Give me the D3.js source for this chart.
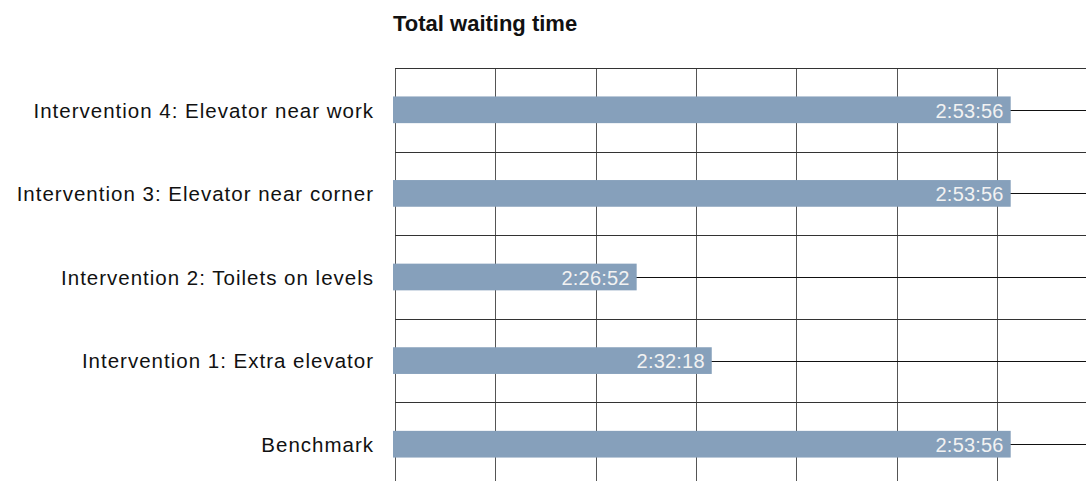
<!DOCTYPE html>
<html>
<head>
<meta charset="utf-8">
<script src="https://cdn.jsdelivr.net/npm/d3@7"></script>
<style>
  body { margin: 0; background: #fff; }
  svg { display: block; }
</style>
</head>
<body>
<div id="chart"></div>
<script>
// data, top row first
var categories = ["Intervention 4: Elevator near work", "Intervention 3: Elevator near corner",
  "Intervention 2: Toilets on levels", "Intervention 1: Extra elevator", "Benchmark"];
var waitLabels = ["2:53:56", "2:53:56", "2:26:52", "2:32:18", "2:53:56"];
var gridCols = [0, 1, 2, 3, 4, 5, 6];

function toSeconds(s) {
  var p = s.split(":").map(Number);
  return p[0] * 3600 + p[1] * 60 + p[2];
}
var waitSeconds = waitLabels.map(toSeconds);

var width = 1086, height = 481;

var svg = d3.select("#chart").append("svg")
  .attr("width", width)
  .attr("height", height);

// axis starts a bit above 2:09, not at zero
var x = d3.scaleLinear()
  .domain([7754, 10436])
  .range([393, 1010.7]);

var y = d3.scaleBand()
  .domain(categories)
  .range([68, 486]);

var grid = d3.scaleLinear()
  .domain([0, 6])
  .range([395, 997]);

var barH = 26.7;

// title
svg.append("text")
  .attr("x", 393)
  .attr("y", 31)
  .text("Total waiting time")
  .style("font-family", "Liberation Sans, Arial, sans-serif")
  .style("font-weight", "bold")
  .style("font-size", "22px")
  .attr("fill", "#111");

// grid
svg.append("g").attr("class", "vgrid")
  .selectAll("line")
  .data(gridCols)
  .join("line")
  .attr("x1", d => Math.round(grid(d)) + 0.5)
  .attr("x2", d => Math.round(grid(d)) + 0.5)
  .attr("y1", y.range()[0])
  .attr("y2", height)
  .attr("stroke", "#555")
  .attr("stroke-width", 1);

svg.append("g").attr("class", "hgrid")
  .selectAll("line")
  .data(categories)
  .join("line")
  .attr("x1", grid(0))
  .attr("x2", width)
  .attr("y1", d => Math.round(y(d)) + 0.5)
  .attr("y2", d => Math.round(y(d)) + 0.5)
  .attr("stroke", "#333");

// line through each row (shows past the bar end)
svg.append("g").attr("class", "rowline")
  .selectAll("line")
  .data(categories)
  .join("line")
  .attr("x1", grid(0))
  .attr("x2", width)
  .attr("y1", d => Math.round(y(d) + y.bandwidth() / 2) + 0.5)
  .attr("y2", d => Math.round(y(d) + y.bandwidth() / 2) + 0.5)
  .attr("stroke", "#111");

// bars
svg.append("g").attr("class", "bars")
  .selectAll("rect")
  .data(categories)
  .join("rect")
  .attr("x", x.range()[0])
  .attr("y", d => y(d) + y.bandwidth() / 2 - barH / 2)
  .attr("width", (d, i) => x(waitSeconds[i]) - x.range()[0])
  .attr("height", barH)
  .attr("fill", "#86a0bb");

// value labels inside bars
svg.append("g").attr("class", "values")
  .selectAll("text")
  .data(categories)
  .join("text")
  .attr("x", (d, i) => x(waitSeconds[i]) - 7)
  .attr("y", d => y(d) + y.bandwidth() / 2 + 7.8)
  .attr("text-anchor", "end")
  .text((d, i) => waitLabels[i])
  .style("font-family", "Liberation Sans, Arial, sans-serif")
  .style("font-size", "20px")
  .style("letter-spacing", "0.2px")
  .attr("fill", "#f2f2f2");

// category labels
svg.append("g").attr("class", "cats")
  .selectAll("text")
  .data(categories)
  .join("text")
  .attr("x", 374)
  .attr("y", d => y(d) + y.bandwidth() / 2 + 7.8)
  .attr("text-anchor", "end")
  .text(d => d)
  .style("font-family", "Liberation Sans, Arial, sans-serif")
  .style("font-size", "20.5px")
  .style("letter-spacing", "1px")
  .attr("fill", "#111");
</script>
</body>
</html>
